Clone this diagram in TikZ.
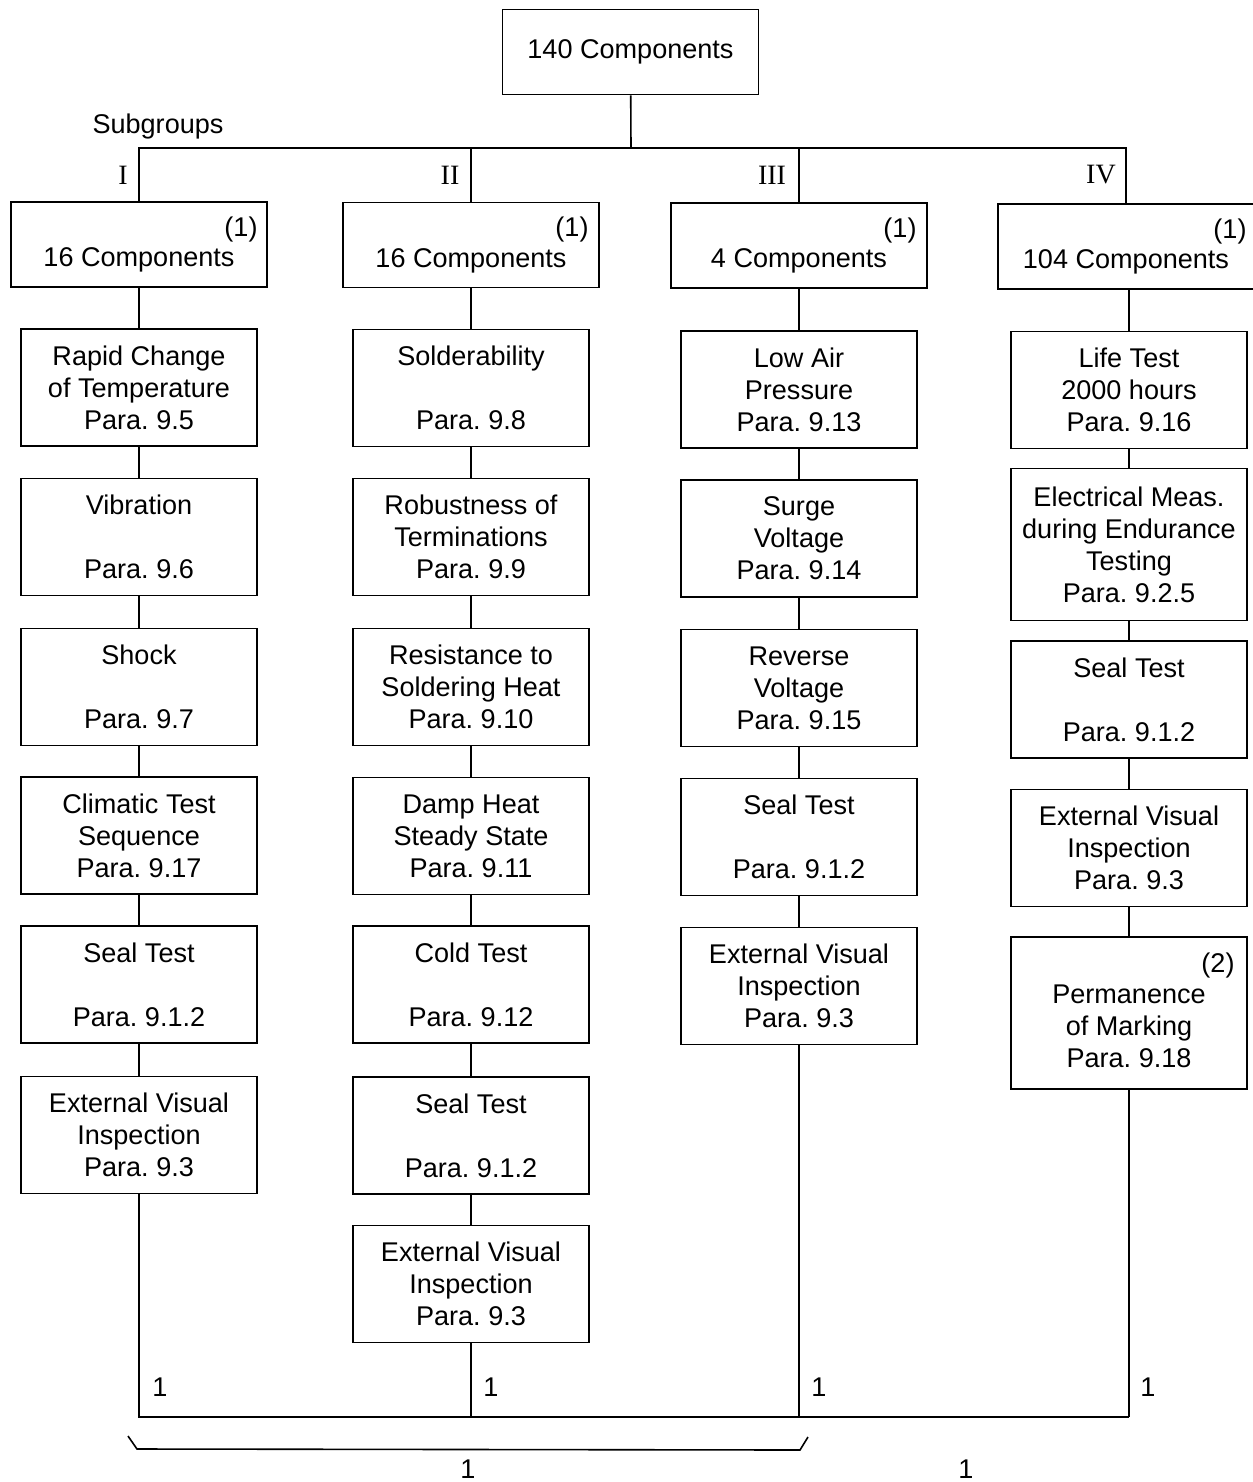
\documentclass[tikz,border=0pt]{standalone}
\usepackage{fontspec}
\setsansfont{Liberation Sans}
\newfontfamily\numfont{Liberation Serif}
\frenchspacing

\tikzset{every picture/.style={line width=1.2pt}}
\tikzset{
  txt/.style={font=\sffamily\fontsize{20.3}{24}\selectfont},
  roman/.style={font=\numfont\fontsize{21}{24}\selectfont},
  testbox/.style={draw, txt, align=center, inner sep=0pt, minimum width=177pt, minimum height=87.75pt},
  tallbox/.style={testbox, minimum height=114pt},
  headbox/.style={testbox, minimum width=192pt, minimum height=64pt}
}

\begin{document}
\begin{tikzpicture}[x=0.75pt,y=0.75pt,yscale=-1,xscale=1]
\useasboundingbox (0,0) rectangle (1253,1482);

% top box and subgroup headers
\node[headbox] (top) at (630.5,52) {140 Components};
\node[txt] (sub) at (158,126) {Subgroups};
\coordinate (bus) at (631,148);

\node[headbox] (h1) at (139,244.5) {\strut\\16 Components\strut};
\node[headbox] (h2) at (471,245) {\strut\\16 Components\strut};
\node[headbox] (h3) at (799,245.5) {\strut\\4 Components\strut};
\node[headbox] (h4) at (1126,246.5) {\strut\\104 Components\strut};

\node[txt] (n1) at (241,229) {(1)};
\node[txt] (n2) at (572,229) {(1)};
\node[txt] (n3) at (900,230) {(1)};
\node[txt] (n4) at (1230,231) {(1)};

\node[roman] (r1) at (123,175) {I};
\node[roman] (r2) at (450,175) {II};
\node[roman] (r3) at (772,175) {III};
\node[roman] (r4) at (1101,175) {IV};

% subgroup I
\node[testbox] (a1) at (139,387.5) {Rapid Change\\of Temperature\\Para. 9.5};
\node[testbox] (a2) at (139,537) {Vibration\\\mbox{}\\Para. 9.6};
\node[testbox] (a3) at (139,687) {Shock\\\mbox{}\\Para. 9.7};
\node[testbox] (a4) at (139,835.5) {Climatic Test\\Sequence\\Para. 9.17};
\node[testbox] (a5) at (139,984.5) {Seal Test\\\mbox{}\\Para. 9.1.2};
\node[testbox] (a6) at (139,1135) {External Visual\\Inspection\\Para. 9.3};

% subgroup II
\node[testbox] (b1) at (471,388) {Solderability\\\mbox{}\\Para. 9.8};
\node[testbox] (b2) at (471,537) {Robustness of\\Terminations\\Para. 9.9};
\node[testbox] (b3) at (471,687) {Resistance to\\Soldering Heat\\Para. 9.10};
\node[testbox] (b4) at (471,836) {Damp Heat\\Steady State\\Para. 9.11};
\node[testbox] (b5) at (471,984.5) {Cold Test\\\mbox{}\\Para. 9.12};
\node[testbox] (b6) at (471,1135.5) {Seal Test\\\mbox{}\\Para. 9.1.2};
\node[testbox] (b7) at (471,1284) {External Visual\\Inspection\\Para. 9.3};

% subgroup III
\node[testbox] (c1) at (799,389.5) {Low Air\\Pressure\\Para. 9.13};
\node[testbox] (c2) at (799,538.5) {Surge\\Voltage\\Para. 9.14};
\node[testbox] (c3) at (799,688) {Reverse\\Voltage\\Para. 9.15};
\node[testbox] (c4) at (799,837) {Seal Test\\\mbox{}\\Para. 9.1.2};
\node[testbox] (c5) at (799,986) {External Visual\\Inspection\\Para. 9.3};

% subgroup IV
\node[testbox] (d1) at (1129,390) {Life Test\\2000 hours\\Para. 9.16};
\node[tallbox] (d2) at (1129,544.5) {Electrical Meas.\\during Endurance\\Testing\\Para. 9.2.5};
\node[testbox] (d3) at (1129,699.5) {Seal Test\\\mbox{}\\Para. 9.1.2};
\node[testbox] (d4) at (1129,848) {External Visual\\Inspection\\Para. 9.3};
\node[tallbox] (d5) at (1129,1013) {\strut\\Permanence\\of Marking\\Para. 9.18\strut};
\node[txt] (n5) at (1218,965) {(2)};

% connectors
\draw (top) -- (bus);
\draw (h1.north) -- (h1.north |- bus) -- (h4.north |- bus) -- (h4.north);
\draw (h2.north) -- (h2.north |- bus);
\draw (h3.north) -- (h3.north |- bus);

\draw (h1) -- (a1) -- (a2) -- (a3) -- (a4) -- (a5) -- (a6);
\draw (h2) -- (b1) -- (b2) -- (b3) -- (b4) -- (b5) -- (b6) -- (b7);
\draw (h3) -- (c1) -- (c2) -- (c3) -- (c4) -- (c5);
\draw (h4.south -| d1) -- (d1) -- (d2) -- (d3) -- (d4) -- (d5);

\coordinate (e1) at (139,1417);
\coordinate (e2) at (471,1417);
\coordinate (e3) at (799,1417);
\coordinate (e4) at (1129,1417);
\draw (a6) -- (e1) -- (e4);
\draw (b7) -- (e2);
\draw (c5) -- (e3);
\draw (d5) -- (e4);

\node[txt] (k1) at (160,1387) {1};
\node[txt] (k2) at (491,1387) {1};
\node[txt] (k3) at (819,1387) {1};
\node[txt] (k4) at (1148,1387) {1};

% brace under subgroups I to III
\draw (128,1436) -- (137,1449) -- (800,1450) -- (808,1437);
\node[txt] (k5) at (468,1469) {1};
\node[txt] (k6) at (966,1469) {1};

\end{tikzpicture}
\end{document}
